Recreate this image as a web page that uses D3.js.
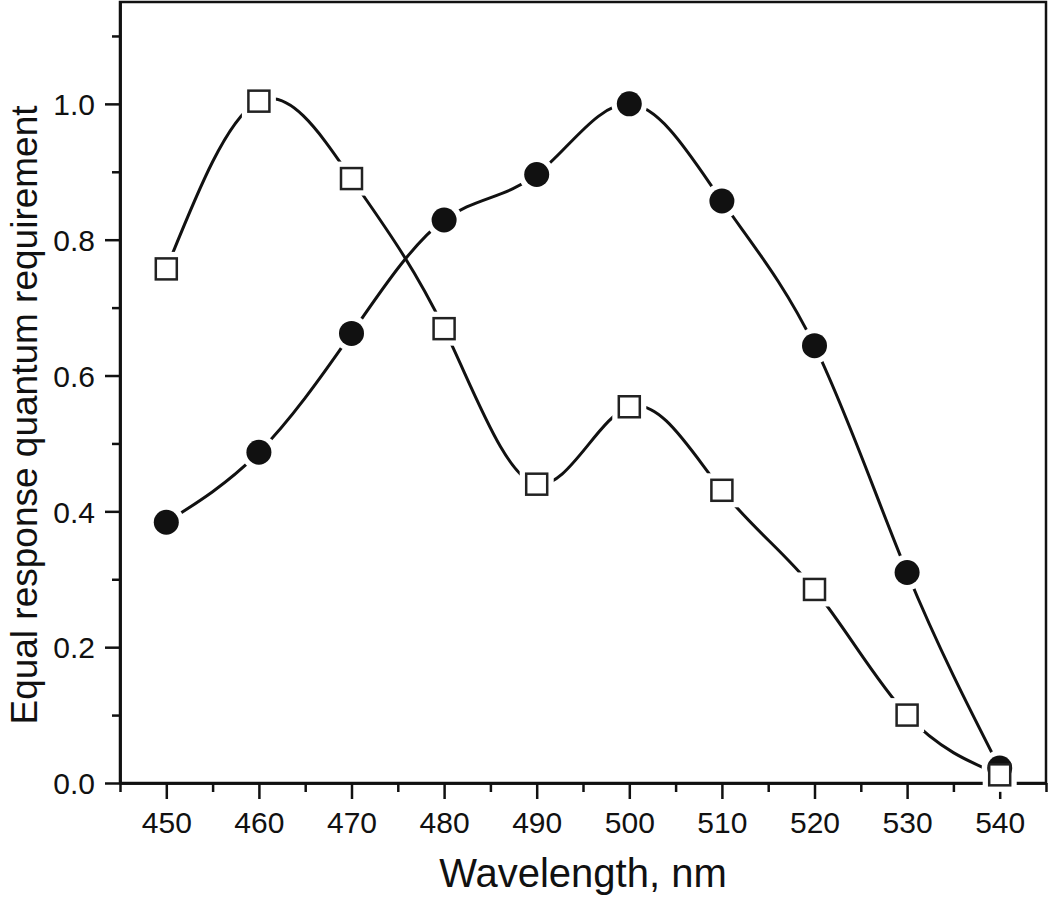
<!DOCTYPE html>
<html><head><meta charset="utf-8">
<script src="https://cdn.jsdelivr.net/npm/d3@7"></script>
<style>body{margin:0;background:#fff}svg{display:block}</style>
</head><body>
<script>
const wavelengths = [450,460,470,480,490,500,510,520,530,540];
const circleSeries = [0.384,0.487,0.662,0.829,0.896,1.0,0.857,0.644,0.310,0.022];
const squareSeries = [0.757,1.004,0.890,0.669,0.440,0.554,0.431,0.285,0.100,0.012];
const xTicks = [450,460,470,480,490,500,510,520,530,540];
const yTicks = [0.0,0.2,0.4,0.6,0.8,1.0];

const W=1050,H=902;
const m={left:120,right:4,top:2,bottom:119};
const svg=d3.select("body").append("svg").attr("width",W).attr("height",H);
const x=d3.scaleLinear().domain([445,545]).range([m.left,W-m.right]);
const y=d3.scaleLinear().domain([0,1.15]).range([H-m.bottom,m.top]);
const font="Liberation Sans, Arial, sans-serif";

// frame
svg.append("rect").attr("x",x(445)).attr("y",y(1.15)).attr("width",x(545)-x(445)).attr("height",y(0)-y(1.15))
  .attr("fill","none").attr("stroke","#111").attr("stroke-width",2.5);

// x axis
const xa=svg.append("g").attr("transform",`translate(0,${y(0)})`)
  .call(d3.axisBottom(x).tickValues(xTicks).tickFormat(d3.format("d")).tickSize(16).tickSizeOuter(0));
const xm=svg.append("g").attr("transform",`translate(0,${y(0)})`)
  .call(d3.axisBottom(x).tickValues(d3.range(445,546,10)).tickFormat("").tickSize(9).tickSizeOuter(0));
// y axis
const ya=svg.append("g").attr("transform",`translate(${x(445)},0)`)
  .call(d3.axisLeft(y).tickValues(yTicks).tickFormat(d3.format(".1f")).tickSize(15).tickSizeOuter(0));
const ym=svg.append("g").attr("transform",`translate(${x(445)},0)`)
  .call(d3.axisLeft(y).tickValues([0.1,0.3,0.5,0.7,0.9,1.1]).tickFormat("").tickSize(8).tickSizeOuter(0));
[xa,xm,ya,ym].forEach(g=>{
  g.attr("font-size",null).attr("font-family",null);
  g.select(".domain").attr("stroke","#111").attr("stroke-width",2.5);
  g.selectAll(".tick line").attr("stroke","#111").attr("stroke-width",2.5);
  g.selectAll(".tick text").attr("fill","#111").style("font-family",font).style("font-size","30px");
});
xa.selectAll(".tick text").attr("dy",null).attr("y",50);
ya.selectAll(".tick text").attr("x",-25).attr("dy","0.36em");

// axis titles
svg.append("text").attr("x",(x(445)+x(545))/2).attr("y",887).attr("text-anchor","middle")
  .style("font-family",font).style("font-size","40px").attr("fill","#111").text("Wavelength, nm");
svg.append("text").attr("transform",`translate(37,415) rotate(-90)`).attr("text-anchor","middle")
  .style("font-family",font).style("font-size","37px").attr("fill","#111").text("Equal response quantum requirement");

const line=d3.line().curve(d3.curveNatural);
const cPts=wavelengths.map((w,i)=>[x(w),y(circleSeries[i])]);
const sPts=wavelengths.map((w,i)=>[x(w),y(squareSeries[i])]);

svg.append("path").attr("d",line(cPts)).attr("fill","none").attr("stroke","#111").attr("stroke-width",3);
svg.append("path").attr("d",line(sPts)).attr("fill","none").attr("stroke","#111").attr("stroke-width",3);

// halos (gaps) first, then markers
const hg=svg.append("g");
hg.selectAll("circle").data(cPts).join("circle").attr("cx",d=>d[0]).attr("cy",d=>d[1]).attr("r",18).attr("fill","#fff");
hg.selectAll("rect").data(sPts).join("rect").attr("x",d=>d[0]-17).attr("y",d=>d[1]-17).attr("width",34).attr("height",34).attr("fill","#fff");
const cg=svg.append("g");
cg.selectAll("circle").data(cPts).join("circle").attr("cx",d=>d[0]).attr("cy",d=>d[1]).attr("r",12.5).attr("fill","#111");
const sg=svg.append("g");
sg.selectAll("rect").data(sPts).join("rect").attr("x",d=>d[0]-10.5).attr("y",d=>d[1]-10.5).attr("width",21).attr("height",21)
  .attr("fill","#fff").attr("stroke","#222").attr("stroke-width",2.5);
</script>
</body></html>
